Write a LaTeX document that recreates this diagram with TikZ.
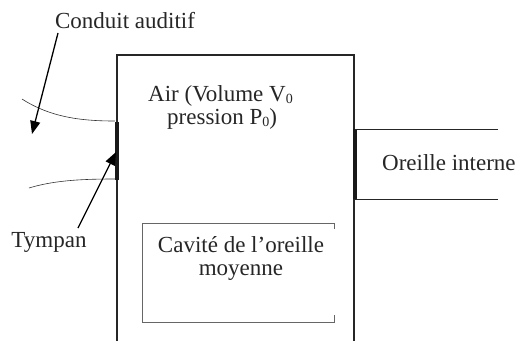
\documentclass[tikz,border=0pt]{standalone}
\usepackage{fontspec}
\setmainfont{Liberation Serif}
\usetikzlibrary{arrows.meta}
\newcommand{\lowzero}{\raisebox{-0.12em}{\fontsize{14}{14}\selectfont 0}}
\begin{document}
\begin{tikzpicture}[x=1pt,y=-1pt,
  lbl/.style={inner sep=0pt,font=\fontsize{23}{26}\selectfont,text=black!85},
  wall/.style={line width=1.2pt,black!85},
  bar/.style={line width=4pt,black!90},
  thin/.style={line width=0.6pt,black!80},
  pointer/.style={line width=1.3pt,-{Triangle[length=13pt,width=10pt]}}]
\useasboundingbox (0,0) rectangle (523,341);
% main box
\draw[wall] (117,341) -- (117,55) -- (354,55) -- (354,341);
% tympan bar
\coordinate (tt) at (117,122);
\coordinate (tb) at (117,180);
\draw[bar] (tt) -- (tb);
% inner ear bar and tube
\coordinate (ot) at (355,129);
\coordinate (ob) at (355,199);
\coordinate (ote) at (498,129);
\coordinate (obe) at (498,199);
\draw[bar] (ot) -- (ob);
\draw[wall,line width=1pt] (ot) -- (ote);
\draw[wall,line width=1pt] (ob) -- (obe);
\node[lbl,anchor=base west] (oi) at (382,170) {Oreille interne};
% ear canal curves
\coordinate (c1s) at (22,99);
\coordinate (c1e) at (115,121);
\coordinate (c2s) at (29,188);
\coordinate (c2e) at (115,179);
\draw[thin] (c1s) .. controls (50,117) and (80,121) .. (c1e);
\draw[thin] (c2s) .. controls (55,180) and (85,179) .. (c2e);
% labels
\node[lbl,anchor=base] (ca) at (125,28) {Conduit auditif};
\node[lbl,anchor=base] (ty) at (49,247) {Tympan};
\coordinate (caa) at (58,33);
\coordinate (cat) at (32,134);
\coordinate (tya) at (78,228);
\coordinate (tyt) at (116,152);
\draw[pointer] (caa) -- (cat);
\draw[pointer] (tya) -- (tyt);
% air
\node[lbl,anchor=base west] (air1) at (148,101) {Air (Volume V\lowzero};
\node[lbl,anchor=base west] (air2) at (167,124) {pression P\lowzero)};
% cavity box
\draw[line width=0.7pt,black!60] (334,229) -- (334,223) -- (142,223) -- (142,322) -- (334,322) -- (334,315);
\node[lbl,anchor=base] (cav1) at (241,252) {Cavité de l’oreille};
\node[lbl,anchor=base] (cav2) at (241,275) {moyenne};
\end{tikzpicture}
\end{document}
